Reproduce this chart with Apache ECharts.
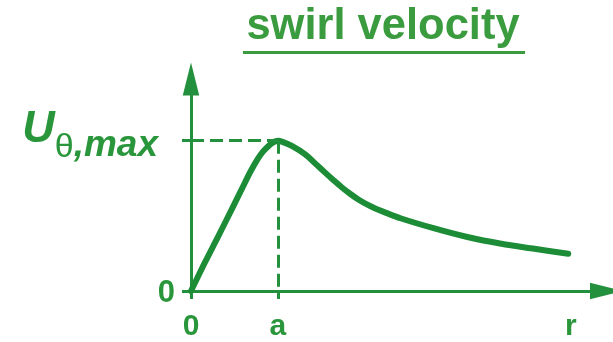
<!DOCTYPE html>
<html>
<head>
<meta charset="utf-8">
<script src="https://cdn.jsdelivr.net/npm/echarts@6/dist/echarts.min.js"></script>
<style>
  html, body { margin: 0; padding: 0; background: #fff; }
  #chart { width: 613px; height: 342px; }
</style>
</head>
<body>
<div id="chart"></div>
<script>
// Radial position r (in units of core radius a) and swirl velocity (in units of U_theta,max)
const rValues = [0, 0.16, 0.31, 0.47, 0.62, 0.68, 0.77, 0.83, 0.88, 0.94, 1.0, 1.06, 1.16, 1.31, 1.45, 1.54, 1.64, 1.73, 1.83, 1.93, 2.03, 2.12, 2.21, 2.41, 2.79, 3.18, 3.57, 3.95, 4.34];
const uValues = [0, 0.19, 0.36, 0.545, 0.72, 0.79, 0.88, 0.928, 0.958, 0.987, 1.0, 0.99, 0.965, 0.91, 0.837, 0.789, 0.737, 0.692, 0.647, 0.607, 0.574, 0.549, 0.528, 0.484, 0.418, 0.359, 0.314, 0.281, 0.248];

// Axis marks
const xTickValues = [0, 1];
const xLabelValues = [0, 1, 4.37];
const xLabelTexts = ['0', 'a', 'r'];
const yTickValues = [0, 1];

// Peak location
const peakR = 1;
const peakU = 1;

const TITLE = 'swirl velocity';

const lineGreen = '#1c8c36';
const axisGreen = '#22903c';
const textGreen = '#2a963c';
const titleGreen = '#3a9b3f';
const FONT = '"Liberation Sans", Arial, sans-serif';

const chart = echarts.init(document.getElementById('chart'), null, { renderer: 'canvas' });

const arrowPath = 'path://M5,0 L10,20 L0,20 Z';

chart.setOption({
  animation: false,
  backgroundColor: '#ffffff',
  title: {
    text: TITLE,
    left: 378,
    top: 0,
    textAlign: 'center',
    textStyle: { fontFamily: FONT, fontSize: 43.5, fontWeight: 'bold', color: titleGreen }
  },
  graphic: [{
    type: 'rect',
    shape: { x: 243, y: 51, width: 282, height: 3 },
    style: { fill: titleGreen }
  }],
  grid: { left: 191, top: 79, right: 6.5, bottom: 47, containLabel: false },
  xAxis: {
    type: 'value',
    min: 0,
    max: 4.78,
    splitLine: { show: false },
    axisLine: {
      show: true,
      onZero: false,
      symbol: ['none', arrowPath],
      symbolSize: [18, 33],
      lineStyle: { color: axisGreen, width: 3 }
    },
    axisTick: { show: true, customValues: xTickValues, length: 8, lineStyle: { color: axisGreen, width: 3 } },
    axisLabel: {
      customValues: xLabelValues,
      margin: 21,
      formatter: function (v) {
        const i = xLabelValues.indexOf(v);
        const t = i >= 0 ? xLabelTexts[i] : '';
        return t === 'r' ? '{r|r}' : '{n|' + t + '}';
      },
      rich: {
        n: { fontFamily: FONT, fontSize: 30, fontWeight: 'bold', color: textGreen },
        r: { fontFamily: FONT, fontSize: 30, fontWeight: 'bold', color: textGreen, padding: [0, 0, 14, 0] }
      }
    }
  },
  yAxis: {
    type: 'value',
    min: 0,
    max: 1.41,
    splitLine: { show: false },
    axisLine: {
      show: true,
      onZero: false,
      symbol: ['none', arrowPath],
      symbolSize: [18, 33],
      lineStyle: { color: axisGreen, width: 3 }
    },
    axisTick: { show: true, customValues: yTickValues, length: 9, lineStyle: { color: axisGreen, width: 3 } },
    axisLabel: {
      customValues: yTickValues,
      margin: 16,
      formatter: function (v) {
        return v === 0 ? '{z|0}' : '{u|U}{s|θ}{m|,max}';
      },
      rich: {
        z: { fontFamily: FONT, fontSize: 31, fontWeight: 'bold', color: textGreen, padding: [4, 0, 0, 0] },
        u: { fontFamily: FONT, fontSize: 45, fontWeight: 'bold', fontStyle: 'italic', color: textGreen, verticalAlign: 'bottom', padding: [0, 0, 23, 0] },
        s: { fontFamily: FONT, fontSize: 34, color: textGreen, verticalAlign: 'bottom', padding: [0, 0, 10, 0] },
        m: { fontFamily: FONT, fontSize: 37, fontWeight: 'bold', fontStyle: 'italic', color: textGreen, verticalAlign: 'bottom', padding: [0, 17, 10, 0] }
      }
    }
  },
  series: [{
    type: 'line',
    data: rValues.map((r, i) => [r, uValues[i]]),
    smooth: 0.3,
    showSymbol: false,
    lineStyle: { color: lineGreen, width: 6, cap: 'round', join: 'round' },
    markLine: {
      silent: true,
      symbol: ['none', 'none'],
      label: { show: false },
      lineStyle: { color: axisGreen, width: 3, type: [13, 6] },
      data: [
        [{ coord: [0, peakU] }, { coord: [peakR, peakU] }],
        [{ coord: [peakR, peakU] }, { coord: [peakR, 0] }]
      ]
    },
    z: 3
  }]
});
</script>
</body>
</html>
